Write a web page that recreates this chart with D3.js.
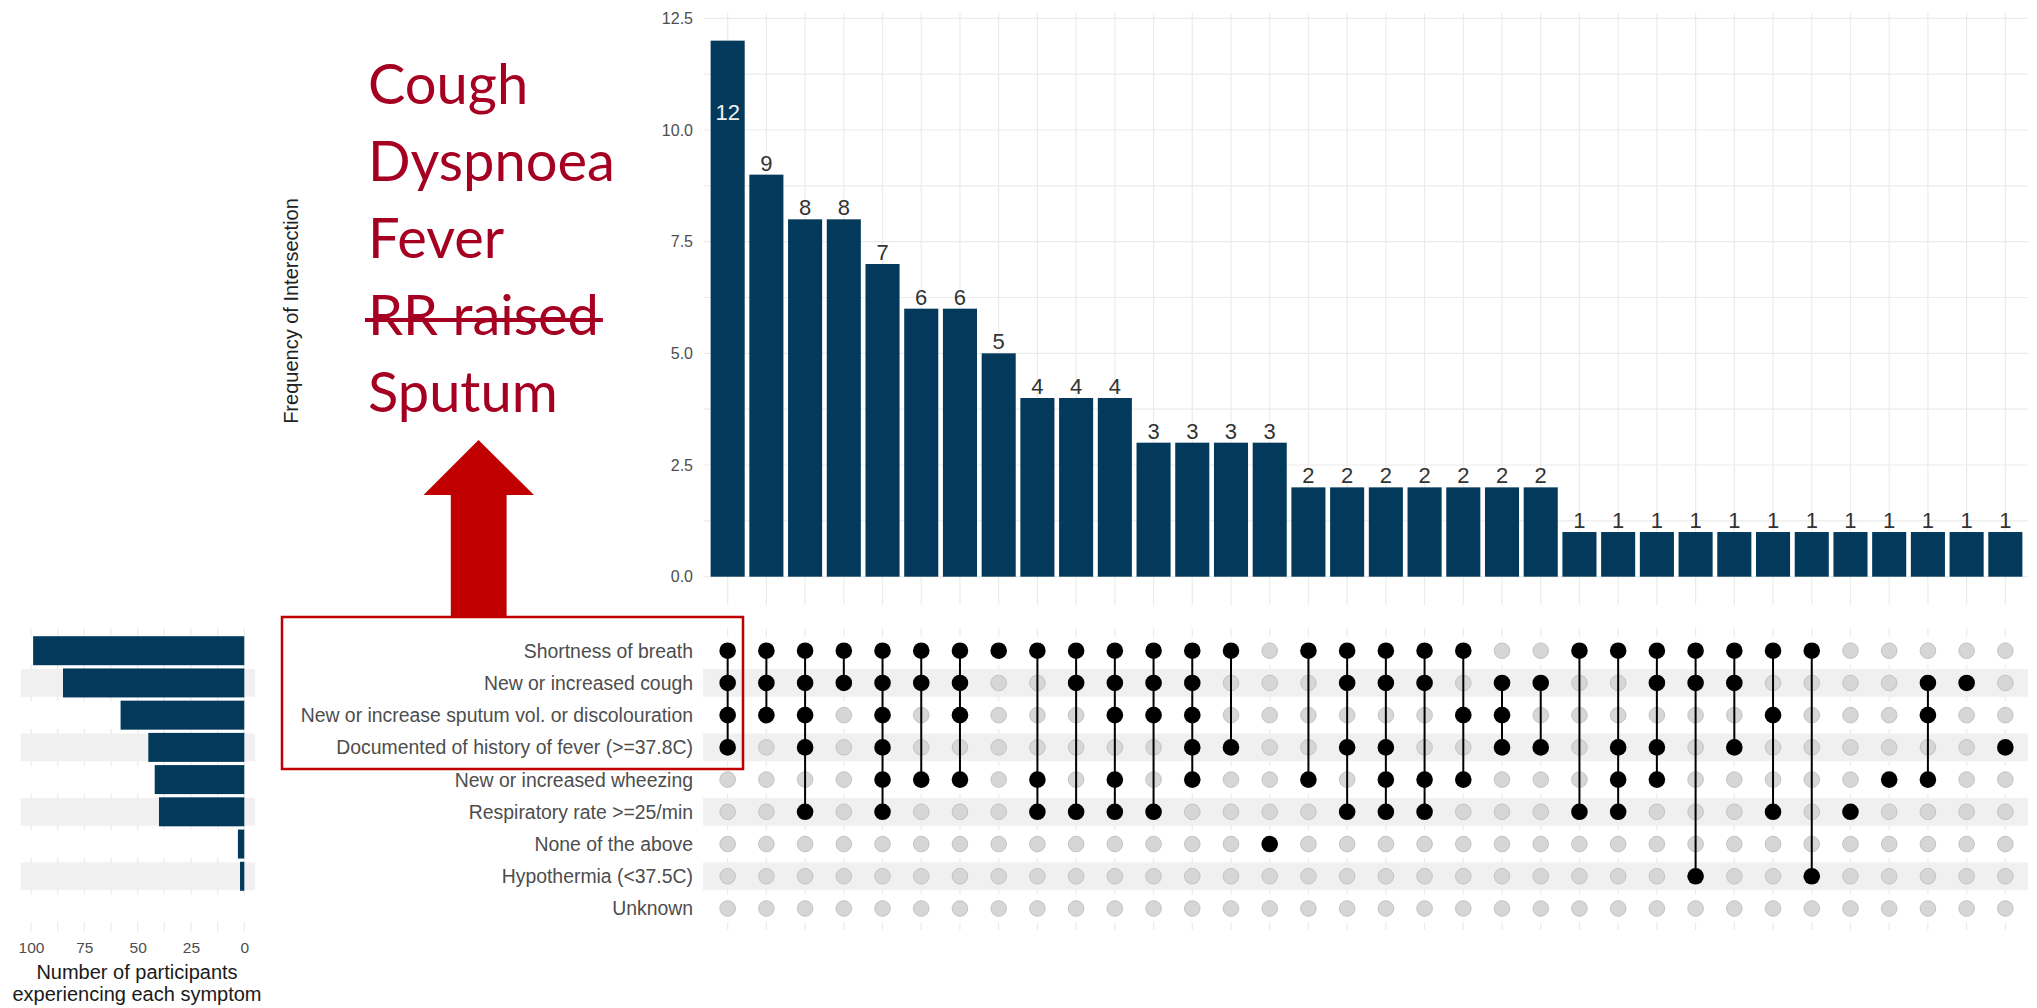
<!DOCTYPE html>
<html>
<head>
<meta charset="utf-8">
<script src="https://cdn.jsdelivr.net/npm/d3@7"></script>
<style>
  body { margin: 0; background: #fff; }
  svg { display: block; font-family: "Liberation Sans", Arial, sans-serif; }
</style>
</head>
<body>
<div id="chart"></div>
<script>
// symptom sets, top to bottom
const setNames = [
  'Shortness of breath',
  'New or increased cough',
  'New or increase sputum vol. or discolouration',
  'Documented of history of fever (>=37.8C)',
  'New or increased wheezing',
  'Respiratory rate >=25/min',
  'None of the above',
  'Hypothermia (<37.5C)',
  'Unknown'
];
const setSizes = [99, 85, 58, 45, 42, 40, 3, 2, 0];
const setTicks = [100, 75, 50, 25, 0];

// intersections, left to right
const intersectionCounts = [12, 9, 8, 8, 7, 6, 6, 5, 4, 4, 4, 3, 3, 3, 3,
  2, 2, 2, 2, 2, 2, 2, 1, 1, 1, 1, 1, 1, 1, 1, 1, 1, 1, 1];
const intersectionSets = [
  [0, 1, 2, 3], [0, 1, 2], [0, 1, 2, 3, 5], [0, 1], [0, 1, 2, 3, 4, 5],
  [0, 1, 4], [0, 1, 2, 4], [0], [0, 4, 5], [0, 1, 5], [0, 1, 2, 4, 5],
  [0, 1, 2, 5], [0, 1, 2, 3, 4], [0, 3], [6], [0, 4], [0, 1, 3, 5],
  [0, 1, 3, 4, 5], [0, 1, 4, 5], [0, 2, 4], [1, 2, 3], [1, 3], [0, 5],
  [0, 3, 4, 5], [0, 1, 3, 4], [0, 1, 7], [0, 1, 3], [0, 2, 5], [0, 7],
  [5], [4], [1, 2, 4], [1], [3]
];
const freqTicks = [0, 2.5, 5, 7.5, 10, 12.5];

// annotation words
const noteWords = ['Cough', 'Dyspnoea', 'Fever', 'RR raised', 'Sputum'];
const struckWord = 'RR raised';

const width = 2037;
const height = 1008;
const barColor = '#033a5b';
const gridColor = '#ebebeb';
const stripeColor = '#f0f0f0';

const svg = d3.select('#chart').append('svg')
  .attr('width', width)
  .attr('height', height);

const x = d3.scaleBand()
  .domain(d3.range(intersectionCounts.length))
  .range([708.3, 2024.7])
  .paddingInner(0.12)
  .paddingOuter(0.06);
const cx = i => x(i) + x.bandwidth() / 2;

const y = d3.scaleLinear().domain([0, 12.5]).range([576.7, 18.3]);

const row = d3.scaleBand()
  .domain(d3.range(setNames.length))
  .range([634.6, 924.6]);
const cy = i => row(i) + row.step() / 2;

const sx = d3.scaleLinear().domain([0, 100]).range([244.3, 31]);

/**
 * Intersection size bars
 */
const barGroup = svg.append('g');

barGroup.selectAll('.hgrid')
  .data(d3.range(0, 12.51, 1.25))
  .enter().append('line')
  .attr('x1', 704).attr('x2', 2028)
  .attr('y1', d => y(d)).attr('y2', d => y(d))
  .attr('stroke', gridColor).attr('stroke-width', 1.2);

barGroup.selectAll('.vgrid')
  .data(d3.range(intersectionCounts.length))
  .enter().append('line')
  .attr('x1', cx).attr('x2', cx)
  .attr('y1', 13).attr('y2', 605)
  .attr('stroke', gridColor).attr('stroke-width', 1.2);

const yAxis = barGroup.append('g')
  .attr('transform', 'translate(704,0)')
  .call(d3.axisLeft(y).tickValues(freqTicks).tickFormat(d3.format('.1f')).tickSize(0).tickPadding(11));
yAxis.select('.domain').remove();
yAxis.selectAll('text')
  .attr('font-size', 16)
  .attr('font-family', '"Liberation Sans", Arial, sans-serif')
  .attr('fill', '#4d4d4d');

barGroup.selectAll('rect.bar')
  .data(intersectionCounts)
  .enter().append('rect')
  .attr('class', 'bar')
  .attr('x', (d, i) => x(i))
  .attr('width', x.bandwidth())
  .attr('y', d => y(d))
  .attr('height', d => y(0) - y(d))
  .attr('fill', barColor);

const maxCount = d3.max(intersectionCounts);
barGroup.selectAll('text.count')
  .data(intersectionCounts)
  .enter().append('text')
  .attr('class', 'count')
  .attr('x', (d, i) => cx(i))
  .attr('y', d => d === maxCount ? y(d) + 79 : y(d) - 4)
  .attr('text-anchor', 'middle')
  .attr('font-size', 22)
  .attr('fill', d => d === maxCount ? '#f2f2f2' : '#333333')
  .text(d => d);

svg.append('text')
  .attr('transform', 'translate(291,311) rotate(-90)')
  .attr('text-anchor', 'middle')
  .attr('dominant-baseline', 'central')
  .attr('font-size', 20)
  .attr('fill', '#222')
  .text('Frequency of Intersection');

/**
 * Matrix of set membership
 */
const matrix = svg.append('g');

matrix.selectAll('.mgrid')
  .data(d3.range(intersectionCounts.length))
  .enter().append('line')
  .attr('x1', cx).attr('x2', cx)
  .attr('y1', 628).attr('y2', 930)
  .attr('stroke', gridColor).attr('stroke-width', 1.2);

matrix.selectAll('rect.stripe')
  .data(setNames)
  .enter().append('rect')
  .attr('x', 703).attr('width', 1325)
  .attr('y', (d, i) => cy(i) - row.step() * 0.43)
  .attr('height', row.step() * 0.86)
  .attr('fill', (d, i) => i % 2 ? stripeColor : '#ffffff');

const cells = [];
intersectionSets.forEach((sets, i) => {
  setNames.forEach((name, r) => cells.push({ col: i, row: r, on: sets.includes(r) }));
});

matrix.selectAll('circle.off')
  .data(cells.filter(c => !c.on))
  .enter().append('circle')
  .attr('cx', d => cx(d.col))
  .attr('cy', d => cy(d.row))
  .attr('r', 7.8)
  .attr('fill', '#d6d6d6')
  .attr('stroke', '#c3c3c3')
  .attr('stroke-width', 1);

matrix.selectAll('line.link')
  .data(intersectionSets.map((s, i) => ({ col: i, lo: d3.min(s), hi: d3.max(s) })).filter(d => d.lo !== d.hi))
  .enter().append('line')
  .attr('x1', d => cx(d.col)).attr('x2', d => cx(d.col))
  .attr('y1', d => cy(d.lo)).attr('y2', d => cy(d.hi))
  .attr('stroke', '#000').attr('stroke-width', 2);

matrix.selectAll('circle.on')
  .data(cells.filter(c => c.on))
  .enter().append('circle')
  .attr('cx', d => cx(d.col))
  .attr('cy', d => cy(d.row))
  .attr('r', 8.3)
  .attr('fill', '#000');

matrix.selectAll('text.setname')
  .data(setNames)
  .enter().append('text')
  .attr('x', 693)
  .attr('y', (d, i) => cy(i))
  .attr('text-anchor', 'end')
  .attr('dominant-baseline', 'central')
  .attr('font-size', 19.4)
  .attr('fill', '#4d4d4d')
  .text(d => d);

/**
 * Set size bars (left)
 */
const side = svg.append('g');

side.selectAll('.sgrid')
  .data(d3.range(0, 100.1, 12.5))
  .enter().append('line')
  .attr('x1', d => sx(d)).attr('x2', d => sx(d))
  .attr('y1', 628).attr('y2', 932)
  .attr('stroke', gridColor).attr('stroke-width', 1.2);

side.selectAll('rect.sstripe')
  .data(setNames)
  .enter().append('rect')
  .attr('x', 20.7).attr('width', 234.3)
  .attr('y', (d, i) => cy(i) - row.step() * 0.43)
  .attr('height', row.step() * 0.86)
  .attr('fill', (d, i) => i % 2 ? stripeColor : '#ffffff');

side.selectAll('rect.sbar')
  .data(setSizes)
  .enter().append('rect')
  .attr('x', d => sx(d))
  .attr('width', d => sx(0) - sx(d))
  .attr('y', (d, i) => cy(i) - row.step() * 0.45)
  .attr('height', row.step() * 0.9)
  .attr('fill', barColor);

const sAxis = side.append('g')
  .attr('transform', 'translate(0,934)')
  .call(d3.axisBottom(sx).tickValues(setTicks).tickSize(0).tickPadding(8));
sAxis.select('.domain').remove();
sAxis.selectAll('text')
  .attr('font-size', 15.5)
  .attr('font-family', '"Liberation Sans", Arial, sans-serif')
  .attr('fill', '#4d4d4d');

side.selectAll('text.stitle')
  .data(['Number of participants', 'experiencing each symptom'])
  .enter().append('text')
  .attr('x', 137)
  .attr('y', (d, i) => 979 + i * 21.6)
  .attr('text-anchor', 'middle')
  .attr('font-size', 20)
  .attr('fill', '#1a1a1a')
  .text(d => d);

/**
 * Annotation: words, arrow and box
 */
const note = svg.append('g');
const noteText = note.selectAll('text.note')
  .data(noteWords)
  .enter().append('text')
  .attr('x', 368)
  .attr('y', (d, i) => 104 + i * 77)
  .attr('font-family', 'Lato, "Open Sans", sans-serif')
  .attr('font-size', 56)
  .attr('fill', '#a50021')
  .text(d => d);

noteText.filter(d => d === struckWord).each(function () {
  const b = this.getBBox();
  note.append('line')
    .attr('x1', b.x - 3).attr('x2', b.x + b.width + 4)
    .attr('y1', 320).attr('y2', 320)
    .attr('stroke', '#a50021').attr('stroke-width', 4);
});

note.append('path')
  .attr('d', 'M478.5,440 L534,495 L506.6,495 L506.6,617 L450.8,617 L450.8,495 L423.5,495 Z')
  .attr('fill', '#c00000');

note.append('rect')
  .attr('x', 282).attr('y', 617)
  .attr('width', 461).attr('height', 152)
  .attr('fill', 'none')
  .attr('stroke', '#c00000')
  .attr('stroke-width', 2.5);
</script>
</body>
</html>
